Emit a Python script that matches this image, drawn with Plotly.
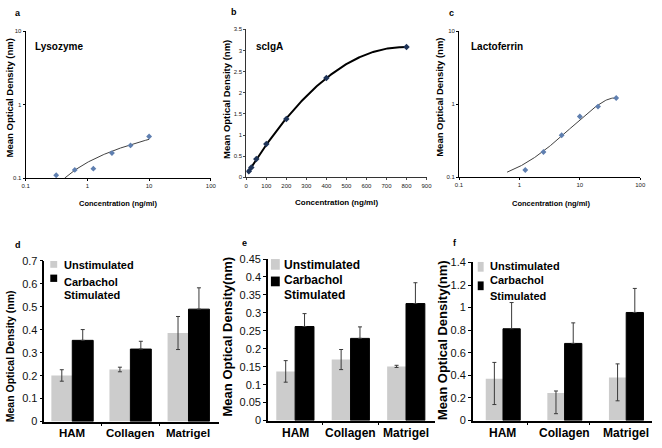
import numpy as np
import plotly.graph_objects as go

W, H = 662, 448

# ---------------- data ----------------
lyso_conc = [0.3125, 0.625, 1.25, 2.5, 5, 10]
lyso_od = [0.11, 0.13, 0.135, 0.22, 0.28, 0.37]

sciga_conc = [12.5, 25, 50, 100, 200, 400, 800]
sciga_od = [0.14, 0.23, 0.43, 0.79, 1.38, 2.35, 3.08]

lacto_conc = [1.25, 2.5, 5, 10, 20, 40]
lacto_od = [0.126, 0.222, 0.377, 0.68, 0.93, 1.22]
lacto_fit_start = 0.625

substrates = ["HAM", "Collagen", "Matrigel"]

d_unstim = [0.201, 0.227, 0.386]
d_unstim_err = [0.025, 0.01, 0.072]
d_stim = [0.354, 0.316, 0.49]
d_stim_err = [0.047, 0.034, 0.093]

e_unstim = [0.137, 0.17, 0.151]
e_unstim_err = [0.03, 0.028, 0.003]
e_stim = [0.262, 0.229, 0.326]
e_stim_err = [0.036, 0.032, 0.058]

f_unstim = [0.37, 0.244, 0.382]
f_unstim_err_plus = [0.145, 0.018, 0.12]
f_unstim_err_minus = [0.228, 0.183, 0.207]
f_stim = [0.813, 0.683, 0.957]
f_stim_err = [0.232, 0.182, 0.213]

# ---------------- helpers ----------------
FONT = "Liberation Sans, Arial, sans-serif"
NARROW = "Liberation Sans Narrow, Arial Narrow, Liberation Sans, Arial, sans-serif"


def xd(l, r):
    return [l / W, r / W]


def yd(t, b):
    return [1 - b / H, 1 - t / H]


def px(x):
    return x / W


def py(y):
    return 1 - y / H


fig = go.Figure()

# ---------------- panel a : lysozyme ----------------
lx = np.array(lyso_conc, dtype=float)
ly = np.array(lyso_od, dtype=float)
k, c = np.polyfit(np.log(lx), ly, 1)
xs = np.geomspace(lx.min(), lx.max(), 200)
fig.add_trace(go.Scatter(x=xs, y=k * np.log(xs) + c, mode="lines",
                         line=dict(color="#404040", width=1), xaxis="x", yaxis="y",
                         showlegend=False, hoverinfo="skip"))
fig.add_trace(go.Scatter(x=lyso_conc, y=lyso_od, mode="markers",
                         marker=dict(symbol="diamond", size=4.5, color="#5f7fb0"),
                         xaxis="x", yaxis="y", showlegend=False))

# ---------------- panel b : scIgA ----------------
bx = np.array(sciga_conc, dtype=float)
by = np.array(sciga_od, dtype=float)
p2 = np.polyfit(bx, by, 2)
xs = np.linspace(bx.min(), bx.max(), 200)
fig.add_trace(go.Scatter(x=xs, y=np.polyval(p2, xs), mode="lines",
                         line=dict(color="black", width=2), xaxis="x2", yaxis="y2",
                         showlegend=False, hoverinfo="skip"))
fig.add_trace(go.Scatter(x=sciga_conc, y=sciga_od, mode="markers",
                         marker=dict(symbol="diamond", size=5, color="#1f3458"),
                         xaxis="x2", yaxis="y2", showlegend=False))

# ---------------- panel c : lactoferrin ----------------
cx = np.array(lacto_conc, dtype=float)
cy = np.array(lacto_od, dtype=float)
pc = np.polyfit(cx, cy, 2)
xs = np.geomspace(lacto_fit_start, cx.max(), 200)
fig.add_trace(go.Scatter(x=xs, y=np.polyval(pc, xs), mode="lines",
                         line=dict(color="#404040", width=1), xaxis="x3", yaxis="y3",
                         showlegend=False, hoverinfo="skip"))
fig.add_trace(go.Scatter(x=lacto_conc, y=lacto_od, mode="markers",
                         marker=dict(symbol="diamond", size=4.5, color="#5f7fb0"),
                         xaxis="x3", yaxis="y3", showlegend=False))

# ---------------- bar panels ----------------
GRAY = "#cccccc"
cats = list(range(len(substrates)))


def add_bars(xa, ya, unstim, un_plus, un_minus, stim, st_plus, bw):
    fig.add_trace(go.Bar(x=cats, y=unstim, width=bw, offset=-bw,
                         marker=dict(color=GRAY, line=dict(width=0)),
                         error_y=dict(type="data", symmetric=False, array=un_plus,
                                      arrayminus=un_minus, color="#3a3a3a",
                                      thickness=1, width=2),
                         xaxis=xa, yaxis=ya, showlegend=False))
    fig.add_trace(go.Bar(x=cats, y=stim, width=bw, offset=0,
                         marker=dict(color="black", line=dict(color="black", width=1)),
                         error_y=dict(type="data", symmetric=False, array=st_plus,
                                      arrayminus=[0] * len(st_plus), color="#3a3a3a",
                                      thickness=1, width=2),
                         xaxis=xa, yaxis=ya, showlegend=False))


add_bars("x4", "y4", d_unstim, d_unstim_err, d_unstim_err, d_stim, d_stim_err, 0.36)
add_bars("x5", "y5", e_unstim, e_unstim_err, e_unstim_err, e_stim, e_stim_err, 0.34)
add_bars("x6", "y6", f_unstim, f_unstim_err_plus, f_unstim_err_minus, f_stim, f_stim_err, 0.28)

# ---------------- axes ----------------
small_tick = dict(family=NARROW, size=6, color="#222")
log_common = dict(type="log", showline=True, linecolor="black", linewidth=1,
                  ticks="outside", ticklen=2, tickcolor="black", showgrid=False,
                  zeroline=False, tickfont=small_tick)

layout = dict(
    width=W, height=H, margin=dict(l=0, r=0, t=0, b=0),
    paper_bgcolor="white", plot_bgcolor="white",
    font=dict(family=FONT, color="black"),
    barmode="overlay",
    xaxis=dict(domain=xd(22, 210), range=[-1, 2], tickvals=[0.1, 1, 10, 100],
               ticktext=["0.1", "1", "10", "100"], anchor="y", **log_common),
    yaxis=dict(domain=yd(26, 177), range=[-1, 1], tickvals=[0.1, 1, 10],
               ticktext=["0.1", "1", "10"], anchor="x", **log_common),
    xaxis2=dict(domain=xd(246, 429), range=[0, 900], dtick=100, anchor="y2",
                showline=True, linecolor="#333", linewidth=1.2, ticks="outside",
                ticklen=2, showgrid=False, zeroline=False, tickfont=small_tick),
    yaxis2=dict(domain=yd(24, 176), range=[0, 3.5], dtick=0.5, anchor="x2",
                showline=True, linecolor="#333", linewidth=1.2, ticks="outside",
                ticklen=2, showgrid=False, zeroline=False, tickfont=small_tick),
    xaxis3=dict(domain=xd(462, 646), range=[-1, 2], tickvals=[0.1, 1, 10, 100],
                ticktext=["0.1", "1", "10", "100"], anchor="y3", **log_common),
    yaxis3=dict(domain=yd(26, 176), range=[-1, 1], tickvals=[0.1, 1, 10],
                ticktext=["0.1", "1", "10"], anchor="x3", **log_common),
)

bar_x_common = dict(tickvals=cats, showticklabels=False,
                    ticks="", showline=True, linecolor="black", linewidth=1.5,
                    showgrid=False, zeroline=False)
bar_y_common = dict(showline=True, linecolor="black", linewidth=1.5, ticks="outside",
                    ticklen=3, tickcolor="black", showgrid=False, zeroline=False,
                    tickfont=dict(family=FONT, size=11, color="#111"))

layout["xaxis4"] = dict(domain=xd(41, 218), range=[-0.48, 2.52], anchor="y4",
                        minor=dict(tickvals=[0.5, 1.5], ticks="outside", ticklen=3,
                                   tickcolor="black", showgrid=False), **bar_x_common)
layout["yaxis4"] = dict(domain=yd(262, 427), range=[0, 0.7], dtick=0.1, anchor="x4",
                        **bar_y_common)
layout["xaxis5"] = dict(domain=xd(268, 438), range=[-0.49, 2.53], anchor="y5",
                        minor=dict(tickvals=[0.5, 1.5], ticks="outside", ticklen=3,
                                   tickcolor="black", showgrid=False), **bar_x_common)
layout["yaxis5"] = dict(domain=yd(260, 426), range=[0, 0.45], dtick=0.05, anchor="x5",
                        **bar_y_common)
layout["xaxis6"] = dict(domain=xd(476, 658), range=[-0.49, 2.42], anchor="y6",
                        minor=dict(tickvals=[0.4, 1.4], ticks="outside", ticklen=3,
                                   tickcolor="black", showgrid=False), **bar_x_common)
layout["yaxis6"] = dict(domain=yd(263.5, 426), range=[0, 1.4], dtick=0.2, anchor="x6",
                        **bar_y_common)

fig.update_layout(**layout)

# ---------------- annotations ----------------
ann = []


def text(x, y, s, size, bold=True, angle=0, xanchor="center", family=FONT, color="black"):
    ann.append(dict(x=px(x), y=py(y), xref="paper", yref="paper",
                    text=("<b>%s</b>" % s) if bold else s, showarrow=False,
                    textangle=angle, xanchor=xanchor, yanchor="middle",
                    font=dict(family=family, size=size, color=color)))


# category labels under the bar panels (positioned through each x axis)
for xa, ypix, fs in (("x4", 439, 11.5), ("x5", 439, 12), ("x6", 439, 12)):
    for i, s in zip(cats, substrates):
        ann.append(dict(x=i, y=py(ypix), xref=xa, yref="paper", text="<b>%s</b>" % s,
                        showarrow=False, xanchor="center", yanchor="middle",
                        font=dict(family=FONT, size=fs, color="black")))

# panel letters
text(14, 7, "a", 9)
text(234, 6, "b", 9)
text(454, 7, "c", 9)
text(14, 246, "d", 9)
text(244, 244, "e", 9)
text(458, 244, "f", 9)

# inner titles
text(29, 42, "Lysozyme", 10, xanchor="left")
text(254, 42, "scIgA", 10, xanchor="left")
text(472, 42, "Lactoferrin", 10, xanchor="left")

# y titles (top)
text(6, 94, "Mean Optical Density (nm)", 9.5, angle=-90)
text(226, 96, "Mean Optical Density (nm)", 9.5, angle=-90)
text(442, 94, "Mean Optical Density (nm)", 9.5, angle=-90)

# x titles (top)
text(116, 203, "Concentration (ng/ml)", 7.5, family=NARROW)
text(338, 202, "Concentration (ng/ml)", 8, family=NARROW)
text(555, 203, "Concentration (ng/ml)", 7.5, family=NARROW)

# y titles (bottom)
text(6, 360, "Mean Optical Density (nm)", 10.5, angle=-90)
text(227, 340, "Mean Optical Density(nm)", 13, angle=-90)
text(446, 343, "Mean Optical Density(nm)", 13, angle=-90)

# legends (bottom)
shapes = []


def swatch(x0, y0, x1, y1, color):
    shapes.append(dict(type="rect", xref="paper", yref="paper",
                       x0=px(x0), x1=px(x1), y0=py(y1), y1=py(y0),
                       fillcolor=color, line=dict(width=0)))


swatch(47, 262, 54, 269, GRAY)
swatch(47, 276, 54, 283.5, "black")
text(59, 266, "Unstimulated", 11, xanchor="left")
text(59, 284, "Carbachol", 11, xanchor="left")
text(59, 297, "Stimulated", 11, xanchor="left")

swatch(271, 260, 280, 271, GRAY)
swatch(271, 278, 280, 288, "black")
text(282, 266, "Unstimulated", 12, xanchor="left")
text(282, 282, "Carbachol", 12, xanchor="left")
text(282, 297, "Stimulated", 12, xanchor="left")

swatch(481, 263, 487, 273, GRAY)
swatch(481, 283, 487, 292, "black")
text(491, 267, "Unstimulated", 11, xanchor="left")
text(491, 282, "Carbachol", 11, xanchor="left")
text(491, 298, "Stimulated", 11, xanchor="left")

fig.update_layout(annotations=ann, shapes=shapes)

fig.write_html("out.html", config={"displayModeBar": False},
               post_script="document.body.style.margin='0';document.body.style.overflow='hidden';")
